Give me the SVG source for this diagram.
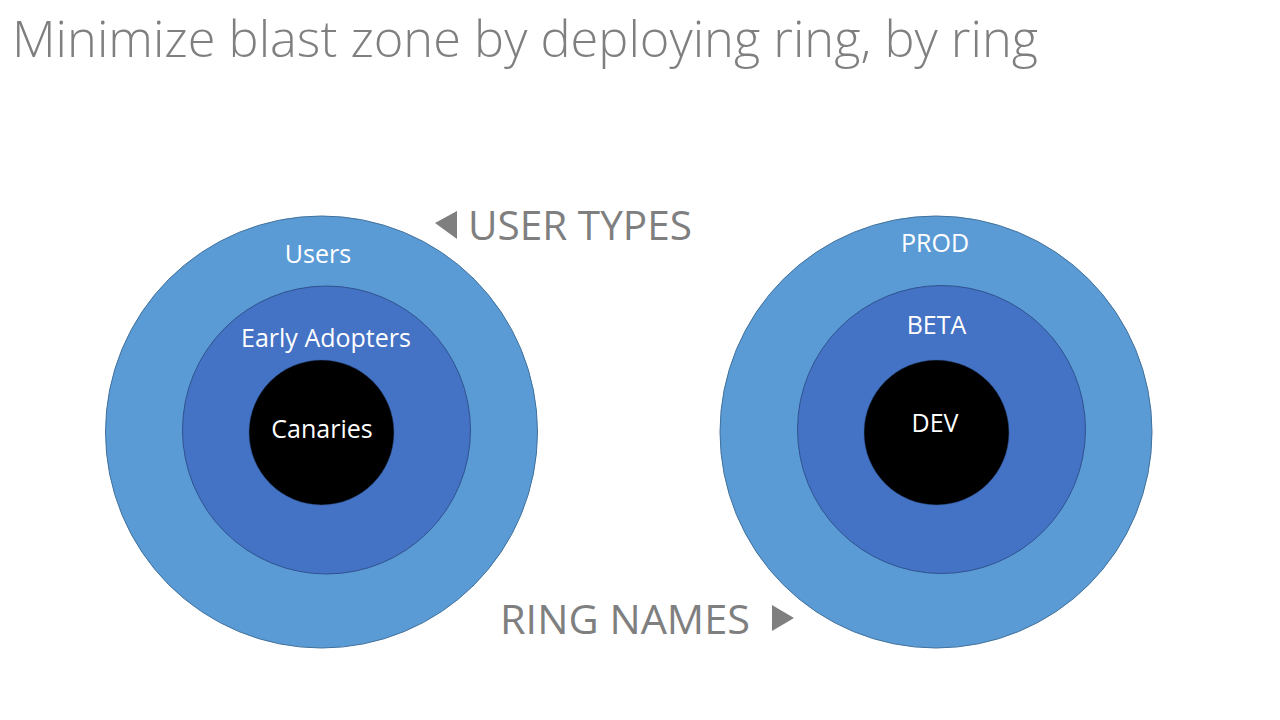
<svg xmlns="http://www.w3.org/2000/svg" width="1280" height="720" viewBox="0 0 1280 720">
  <style>
    .title { font-family: "Open Sans", "Segoe UI", "Liberation Sans", sans-serif; font-weight: 300; fill: #7f7f7f; }
    .side { font-family: "Open Sans", "Segoe UI", "Liberation Sans", sans-serif; font-weight: 400; fill: #7f7f7f; }
    .lbl { font-family: "Open Sans", "Segoe UI", "Liberation Sans", sans-serif; font-size: 25px; fill: #ffffff; text-anchor: middle; }
    .outer { fill: #5b9bd5; stroke: #41719c; stroke-width: 1; }
    .mid { fill: #4472c4; stroke: #2f528f; stroke-width: 1; }
    .inner { fill: #000000; stroke: #2f528f; stroke-width: 0.5; }
    .tri { fill: #7f7f7f; }
  </style>
  <rect width="1280" height="720" fill="#ffffff"/>
  <text class="title" x="12" y="57" font-size="50" textLength="1026" lengthAdjust="spacingAndGlyphs">Minimize blast zone by deploying ring, by ring</text>

  <g id="user-types-ring">
    <circle class="outer" cx="321.5" cy="432" r="216"/>
    <text class="lbl" x="318" y="263">Users</text>
    <g id="early-adopters">
      <circle class="mid" cx="326.5" cy="430" r="144"/>
      <text class="lbl" x="326" y="347">Early Adopters</text>
    </g>
    <g id="canaries">
      <circle class="inner" cx="321.5" cy="432.5" r="72.5"/>
      <text class="lbl" x="322" y="438">Canaries</text>
    </g>
  </g>

  <g id="ring-names-ring">
    <circle class="outer" cx="936" cy="432" r="216"/>
    <text class="lbl" x="935" y="252">PROD</text>
    <g id="beta">
      <circle class="mid" cx="941.5" cy="429.5" r="144"/>
      <text class="lbl" x="936.5" y="334">BETA</text>
    </g>
    <g id="dev">
      <circle class="inner" cx="936.5" cy="432.5" r="72.5"/>
      <text class="lbl" x="935" y="432">DEV</text>
    </g>
  </g>

  <g id="user-types-label">
    <polygon class="tri" points="435,223 457,211 457,239"/>
    <text class="side" x="468" y="240" font-size="41" textLength="224" lengthAdjust="spacingAndGlyphs">USER TYPES</text>
  </g>
  <g id="ring-names-label">
    <text class="side" x="500" y="634" font-size="41" textLength="250" lengthAdjust="spacingAndGlyphs">RING NAMES</text>
    <polygon class="tri" points="772,605 794,618 772,631"/>
  </g>
</svg>
